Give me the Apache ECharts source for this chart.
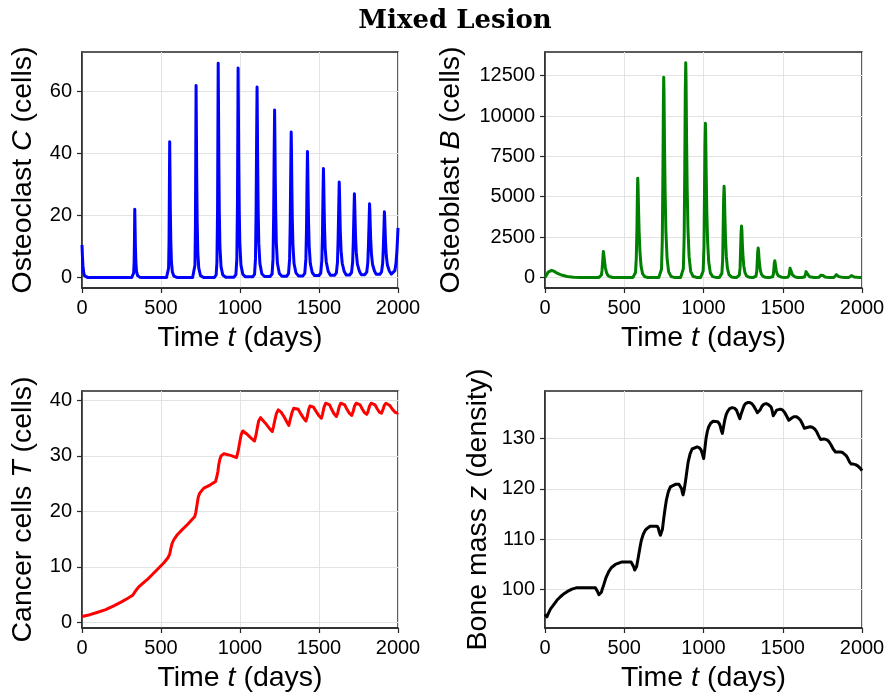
<!DOCTYPE html>
<html><head><meta charset="utf-8">
<script src="https://cdn.jsdelivr.net/npm/echarts@6/dist/echarts.min.js"></script>
<style>html,body{margin:0;padding:0;background:#fff}#c{width:889px;height:695px}</style>
</head><body><div id="c"></div>
<script>
// ---------------- DATA ----------------
const xTicks = [0, 500, 1000, 1500, 2000];
const cTicks = [0, 20, 40, 60];
const bTicks = [0, 2500, 5000, 7500, 10000, 12500];
const tTicks = [0, 10, 20, 30, 40];
const zTicks = [100, 110, 120, 130];

// Osteoclast C (time in days, cells)
const osteoclastTime = [0,3,6,10,15,22,35,60,
 315,322,327,330,332,334,336,338,341,345,352,365,380,
 535,543,548,551,553,555,557,559,562,566,572,582,600,
 700,710,715,718,720,722,724,726,729,733,739,750,770,
 838,849,854,858,860,862,864,866,869,873,880,891,910,
 962,974,980,984,986,988,990,992,995,999,1006,1018,1035,
 1080,1092,1098,1102,1105,1108,1110,1112,1115,1119,1126,1138,1155,
 1190,1203,1209,1213,1216,1219,1221,1223,1226,1230,1237,1249,1265,
 1295,1307,1314,1318,1321,1324,1326,1328,1331,1335,1342,1354,1370,
 1398,1410,1417,1421,1424,1427,1429,1431,1434,1438,1445,1457,1472,
 1500,1511,1518,1522,1525,1528,1530,1532,1535,1539,1546,1558,1572,
 1598,1610,1617,1621,1625,1628,1630,1632,1635,1640,1647,1659,1672,
 1694,1706,1713,1717,1721,1724,1726,1728,1731,1736,1743,1755,1767,
 1790,1802,1809,1813,1817,1820,1822,1824,1827,1832,1839,1851,1862,
 1885,1896,1903,1907,1911,1914,1916,1918,1921,1926,1933,1945,1958,
 1970,1980,1987,1993,1997,2000];
const osteoclastCells = [10.5,6.5,3.8,1.8,0.6,0.15,0.02,0,
 0,0.3,1.5,5,12,22,16,10,5,2,0.6,0.1,0,
 0,0.5,3,12,28,43.8,33,22,12,5,1.8,0.4,0,
 0,0.6,4,17,40,62,48,33,18,8,3,0.6,0,
 0,0.8,5,22,46,69.2,55,38,21,10,3.5,0.8,0.1,
 0.1,0.9,6,24,46,67.6,54,38,22,11,4,1,0.2,
 0.2,1.0,6,22,44,61.5,50,36,22,11,4.5,1.2,0.3,
 0.3,1.1,6,20,39,54.1,45,33,21,11,4.5,1.3,0.4,
 0.4,1.2,6,18,34,47,40,30,19,10.5,4.5,1.5,0.5,
 0.5,1.3,6,16,30,40.7,35,27,17.5,10,4.5,1.6,0.6,
 0.6,1.4,5.5,14,26,35.2,30.5,24,16,9.5,5,2,0.7,
 0.7,1.5,5,12.5,23,30.8,27,21.5,14.5,8.5,4.6,2,0.8,
 0.8,1.6,5,11.5,20.5,27,24,19.5,13.5,8,4.3,2.1,0.9,
 0.9,1.7,4.8,10.5,18,23.8,21.5,17.5,12.5,7.5,4.2,2.1,1.0,
 1.0,1.8,4.6,9.5,16,21.2,19,15.8,11.5,7,4,2.1,1.1,
 1.3,2.2,4.5,8.5,12.5,16];

// Osteoblast B
const osteoblastTime = [0,10,20,30,42,55,70,90,110,140,180,230,
 340,350,356,360,364,368,372,376,381,388,397,410,430,
 555,565,571,576,580,583,585,587,590,594,599,606,616,630,650,
 718,728,735,740,744,747,749,751,754,758,763,770,780,795,815,
 856,866,873,878,882,885,888,890,893,897,902,909,919,934,955,
 982,992,998,1003,1006,1009,1012,1014,1017,1021,1026,1033,1043,1058,1078,
 1100,1110,1116,1121,1124,1127,1130,1132,1135,1139,1144,1151,1161,1176,1195,
 1210,1220,1226,1231,1234,1237,1240,1242,1245,1249,1254,1261,1271,1285,1300,
 1315,1325,1331,1336,1339,1342,1345,1347,1350,1354,1359,1366,1376,1390,1405,
 1420,1430,1436,1441,1444,1447,1450,1452,1455,1459,1464,1471,1481,1495,1510,
 1520,1530,1536,1540,1543,1546,1548,1550,1553,1557,1562,1569,1580,1595,
 1620,1632,1637,1641,1644,1647,1649,1651,1654,1658,1663,1670,1682,1698,
 1715,1728,1733,1737,1740,1743,1745,1747,1750,1754,1759,1767,1780,1795,
 1810,1823,1828,1832,1835,1838,1840,1842,1845,1849,1854,1862,1875,1890,
 1905,1918,1923,1927,1930,1933,1936,1938,1941,1945,1950,1958,1970,1985,2000];
const osteoblastCells = [0,150,330,420,440,390,300,200,130,60,15,0,
 0,30,150,450,1000,1600,1350,950,600,300,120,35,0,
 0,50,300,1200,3000,5200,6150,5700,4300,2800,1600,700,220,40,0,
 0,80,500,2300,6500,10800,12400,11300,8200,5200,2800,1200,350,60,0,
 0,90,550,2500,7000,11500,13300,12200,8800,5500,3000,1300,380,70,0,
 0,70,400,1900,5000,8200,9550,8800,6400,4000,2200,950,280,50,0,
 0,40,250,1100,3000,4900,5650,5200,3800,2400,1300,560,170,30,0,
 0,25,140,620,1700,2750,3180,2950,2150,1350,730,320,100,20,0,
 0,15,80,360,950,1580,1820,1690,1230,780,420,190,60,10,0,
 0,10,45,200,540,900,1030,960,700,440,240,110,35,5,0,
 0,6,30,130,340,570,650,610,450,280,150,70,20,0,
 0,5,20,80,210,360,410,385,285,180,95,45,12,0,
 0,3,14,55,140,235,270,255,190,120,65,28,8,0,
 0,2,10,40,100,170,200,188,140,90,48,20,5,0,
 0,2,7,27,68,112,130,122,92,58,32,14,4,0,0];

// Cancer cells T
const cancerTime = [0,50,95,150,201,250,285,321,335,345,359,412,475,520,545,555,562,570,581,600,623,669,714,720,728,736,745,771,813,845,853,860,866,872,880,898,940,978,988,999,1008,1018,1045,1070,1092,1100,1109,1118,1130,1161,1185,1204,1212,1221,1230,1242,1260,1278,1295,1309,1318,1330,1340,1352,1368,1383,1400,1417,1425,1435,1443,1451,1465,1480,1498,1515,1522,1532,1542,1553,1567,1580,1595,1610,1618,1628,1638,1650,1663,1677,1692,1707,1715,1724,1735,1747,1760,1773,1788,1802,1810,1820,1830,1842,1855,1868,1882,1895,1903,1913,1924,1935,1948,1962,1980,1996,2000];
const cancerCells = [1.08,1.4,1.8,2.3,3.0,3.7,4.27,4.9,5.5,5.9,6.4,7.7,9.5,10.8,11.7,12.3,13.3,14.2,14.9,15.7,16.4,17.7,19.1,19.8,21.2,22.6,23.3,24.2,24.8,25.4,26.2,27.2,28.5,29.3,30.0,30.4,30.1,29.7,30.8,32.6,33.9,34.5,33.9,33.2,32.7,33.6,35.0,36.3,36.9,35.9,35.0,34.4,35.3,36.5,37.6,38.3,37.9,37.1,36.2,35.5,36.6,37.9,38.6,38.9,38.4,37.7,36.9,36.3,37.0,38.4,39.0,39.3,38.8,38.1,37.3,36.8,37.5,38.8,39.5,39.7,39.2,38.4,37.6,37.1,37.7,38.9,39.5,39.7,39.2,38.4,37.7,37.3,37.9,38.9,39.5,39.7,39.2,38.5,37.8,37.5,38.0,39.0,39.5,39.7,39.2,38.5,37.9,37.7,38.2,39.1,39.5,39.6,39.1,38.5,37.9,37.7,37.8];

// Bone mass z
const boneTime = [0,5,12,20,35,54,75,97,120,139,170,202,260,318,326,332,340,349,356,362,370,385,402,420,444,486,543,553,560,566,572,578,585,591,600,608,620,633,650,665,707,715,721,728,734,741,749,758,766,778,791,823,845,854,862,867,871,878,886,895,903,915,928,960,975,985,993,1001,1008,1016,1025,1033,1045,1061,1090,1100,1107,1113,1119,1126,1134,1143,1153,1165,1180,1195,1208,1218,1229,1238,1248,1256,1265,1278,1292,1305,1317,1330,1340,1348,1358,1369,1382,1396,1410,1427,1434,1440,1450,1461,1473,1485,1500,1513,1525,1538,1548,1559,1572,1587,1600,1612,1625,1637,1648,1660,1673,1686,1700,1713,1725,1738,1748,1759,1770,1780,1793,1805,1818,1833,1848,1864,1878,1890,1900,1911,1922,1932,1945,1959,1975,1991,2000];
const boneMass = [95.1,94.8,94.6,95.2,96.2,97.0,97.9,98.6,99.2,99.6,100.1,100.4,100.4,100.4,100.2,99.6,99.0,98.8,99.5,100.2,100.9,102.4,103.6,104.4,105.0,105.5,105.5,105.2,104.5,103.9,103.6,104.6,105.8,106.9,108.5,109.8,111.0,111.8,112.3,112.6,112.6,112.2,111.4,110.8,110.5,112.0,114.1,116.2,117.8,119.4,120.4,120.9,120.9,120.7,120.0,119.2,118.8,119.8,121.4,123.5,125.3,126.9,127.9,128.3,128.1,127.7,126.9,126.0,127.8,130.0,131.5,132.3,133.0,133.4,133.3,132.9,132.3,131.5,131.0,132.2,133.6,134.7,135.4,135.9,136.1,136.0,135.6,134.8,133.9,134.9,135.8,136.5,136.9,137.1,137.1,136.9,136.4,135.7,135.1,134.9,135.7,136.4,136.8,136.9,136.7,136.2,135.4,134.5,135.0,135.6,135.8,135.8,135.6,135.1,134.4,133.6,133.8,134.1,134.3,134.3,134.0,133.6,132.8,132.0,132.1,132.2,132.3,132.2,131.9,131.4,130.6,129.8,129.8,129.9,129.9,129.7,129.3,128.7,127.9,127.3,127.3,127.3,127.2,127.0,126.6,126.0,125.3,124.9,124.9,124.8,124.5,124.0,123.6];

// ---------------- CHART ----------------
const zip = (a, b) => a.map((t, i) => [t, b[i]]);
const FONT = 'Liberation Sans, Arial, Helvetica, sans-serif';
const AX = '#262626';
const NAME_SIZE = 28.5;
const plain = v => String(v);
const grids = [
  {left: 82, top: 52, width: 316, height: 236},
  {left: 545, top: 52, width: 317, height: 236},
  {left: 82, top: 391, width: 316, height: 237},
  {left: 545, top: 391, width: 317, height: 237}
].map(g => Object.assign(g, {show: true, borderColor: AX, borderWidth: 1.5, backgroundColor: '#fff'}));

const rich = {i: {fontStyle: 'italic', fontSize: NAME_SIZE, fontFamily: FONT, color: '#000'}};
function xAx(idx) {
  return {
    type: 'value', gridIndex: idx, min: 0, max: 2000,
    name: 'Time {i|t} (days)', nameLocation: 'middle', nameGap: 36,
    nameTextStyle: {fontSize: NAME_SIZE, fontFamily: FONT, color: '#000', rich: rich},
    axisLine: {show: true, onZero: false, lineStyle: {color: AX, width: 1.5}},
    axisTick: {show: true, inside: false, length: 5, customValues: xTicks, lineStyle: {color: AX, width: 1.2}},
    axisLabel: {fontSize: 20, fontFamily: FONT, color: '#000', margin: 10, customValues: xTicks, formatter: plain},
    splitLine: {show: true, lineStyle: {color: '#e3e3e3', width: 1}}
  };
}
function yAx(idx, min, max, ticks, name, gap) {
  return {
    type: 'value', gridIndex: idx, min: min, max: max,
    name: name, nameLocation: 'middle', nameGap: gap, nameRotate: 90,
    nameTextStyle: {fontSize: NAME_SIZE, fontFamily: FONT, color: '#000', rich: rich},
    axisLine: {show: true, onZero: false, lineStyle: {color: AX, width: 1.5}},
    axisTick: {show: true, inside: false, length: 5, customValues: ticks, lineStyle: {color: AX, width: 1.2}},
    axisLabel: {fontSize: 20, fontFamily: FONT, color: '#000', margin: 10, customValues: ticks, formatter: plain},
    splitLine: {show: true, lineStyle: {color: '#e3e3e3', width: 1}}
  };
}
function line(idx, data, color) {
  return {type: 'line', xAxisIndex: idx, yAxisIndex: idx, data: data, showSymbol: false,
    symbol: 'none', lineStyle: {color: color, width: 3, join: 'round'}, animation: false, clip: true};
}

const chart = echarts.init(document.getElementById('c'), null, {renderer: 'canvas'});
chart.setOption({
  backgroundColor: '#fff',
  animation: false,
  title: {text: 'Mixed Lesion', left: 450, top: 3, textAlign: 'center',
    textStyle: {fontFamily: 'DejaVu Serif', fontWeight: 'bold', fontSize: 26, color: '#000'}},
  grid: grids,
  xAxis: [xAx(0), xAx(1), xAx(2), xAx(3)],
  yAxis: [
    yAx(0, -3.4, 72.8, cTicks, 'Osteoclast {i|C} (cells)', 44),
    yAx(1, -656, 13966, bTicks, 'Osteoblast {i|B} (cells)', 79),
    yAx(2, -1.0, 41.7, tTicks, 'Cancer cells {i|T} (cells)', 44),
    yAx(3, 92.4, 139.4, zTicks, 'Bone mass {i|z} (density)', 52)
  ],
  series: [
    line(0, zip(osteoclastTime, osteoclastCells), '#0000ff'),
    line(1, zip(osteoblastTime, osteoblastCells), '#008000'),
    line(2, zip(cancerTime, cancerCells), '#ff0000'),
    line(3, zip(boneTime, boneMass), '#000000')
  ]
});
</script></body></html>
